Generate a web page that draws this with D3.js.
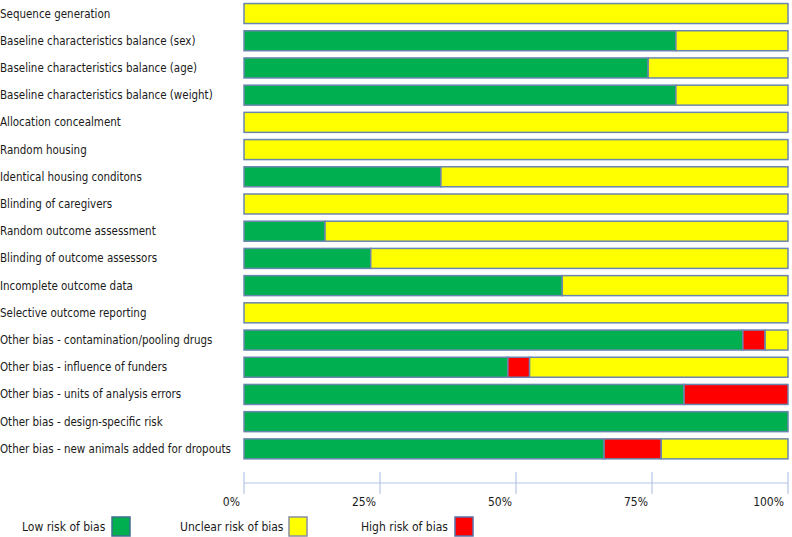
<!DOCTYPE html>
<html><head><meta charset="utf-8">
<script src="https://cdn.jsdelivr.net/npm/d3@7"></script>
<style>body{margin:0;background:#fff}svg{display:block}</style>
</head><body>
<svg id="chart" width="792" height="537"></svg>
<script>
const categories = [
  "Sequence generation",
  "Baseline characteristics balance (sex)",
  "Baseline characteristics balance (age)",
  "Baseline characteristics balance (weight)",
  "Allocation concealment",
  "Random housing",
  "Identical housing conditons",
  "Blinding of caregivers",
  "Random outcome assessment",
  "Blinding of outcome assessors",
  "Incomplete outcome data",
  "Selective outcome reporting",
  "Other bias - contamination/pooling drugs",
  "Other bias - influence of funders",
  "Other bias - units of analysis errors",
  "Other bias - design-specific risk",
  "Other bias - new animals added for dropouts"
];
const lowRisk     = [0, 79.4, 74.3, 79.4, 0, 0, 36.2, 0, 14.9, 23.3, 58.5, 0, 91.7, 48.5, 80.9, 100, 66.2];
const highRisk    = [0, 0, 0, 0, 0, 0, 0, 0, 0, 0, 0, 0, 4.1, 4.0, 19.1, 0, 10.5];
const unclearRisk = [100, 20.6, 25.7, 20.6, 100, 100, 63.8, 100, 85.1, 76.7, 41.5, 100, 4.2, 47.5, 0, 0, 23.3];
const seriesNames = ["Low risk of bias", "Unclear risk of bias", "High risk of bias"];
const tickValues = [0, 25, 50, 75, 100];
const tickLabels = ["0%", "25%", "50%", "75%", "100%"];

const colors = {"Low risk of bias": "#00B050", "Unclear risk of bias": "#FFFF00", "High risk of bias": "#FF0000"};
const legendBorders = {"Low risk of bias": "#3f6f8f", "Unclear risk of bias": "#8a8f9f", "High risk of bias": "#5a6fa8"};
const font = "Tahoma, 'DejaVu Sans Condensed', 'Liberation Sans Narrow', 'DejaVu Sans', sans-serif";

// stack order as drawn: low, high, unclear
const rows = categories.map((c, i) => ({cat: c, low: lowRisk[i], high: highRisk[i], unclear: unclearRisk[i]}));
const stack = d3.stack().keys(["low", "high", "unclear"])(rows);
const keyName = {low: "Low risk of bias", high: "High risk of bias", unclear: "Unclear risk of bias"};

const svg = d3.select("#chart");
const x = d3.scaleLinear().domain([0, 100]).range([244, 788]);
const y = d3.scaleBand().domain(categories).range([0, 462.4]).paddingInner(0.265).paddingOuter(0.13);

// category labels
const labelG = svg.append("g");
labelG.selectAll("text").data(categories).join("text")
  .attr("x", 0).attr("y", d => y(d) + y.bandwidth() / 2)
  .attr("dy", "0.35em")
  .attr("font-family", font).attr("font-size", 12).attr("fill", "#1a1a1a")
  .text(d => d);
// fit longest label into the label column (~231px)
(function() {
  const nodes = labelG.selectAll("text").nodes();
  const maxW = d3.max(nodes, n => n.getComputedTextLength());
  if (maxW > 232) labelG.selectAll("text").attr("font-size", 12 * 231 / maxW);
})();

// bars
svg.append("g").selectAll("g").data(stack).join("g")
  .attr("fill", s => colors[keyName[s.key]])
  .selectAll("rect").data(s => s.filter(d => d[1] - d[0] > 0)).join("rect")
  .attr("x", d => x(d[0]))
  .attr("y", d => y(d.data.cat))
  .attr("width", d => x(d[1]) - x(d[0]))
  .attr("height", y.bandwidth())
  .attr("stroke", "#6b86ad").attr("stroke-width", 1.5);

// axis
const axisG = svg.append("g");
const axisY = 483;
axisG.append("line").attr("x1", x(0)).attr("x2", x(100)).attr("y1", axisY).attr("y2", axisY)
  .attr("stroke", "#b4c6e7").attr("stroke-width", 1.2);
axisG.selectAll("line.tick").data(tickValues).join("line").attr("class", "tick")
  .attr("x1", d => x(d)).attr("x2", d => x(d)).attr("y1", axisY - 11).attr("y2", axisY + 11)
  .attr("stroke", "#b4c6e7").attr("stroke-width", 1.2);
axisG.selectAll("text").data(tickValues).join("text")
  .attr("x", d => x(d) - 4).attr("y", 502).attr("dy", "0.35em")
  .attr("text-anchor", "end")
  .attr("font-family", font).attr("font-size", 12).attr("fill", "#1a1a1a")
  .text((d, i) => tickLabels[i]);

// legend
const legendX = {"Low risk of bias": [22, 112], "Unclear risk of bias": [180, 289], "High risk of bias": [361, 455]};
const lg = svg.append("g").selectAll("g").data(seriesNames).join("g");
lg.append("text").attr("x", d => legendX[d][0]).attr("y", 527).attr("dy", "0.35em")
  .attr("font-family", font).attr("font-size", 12).attr("fill", "#1a1a1a").text(d => d);
lg.append("rect").attr("x", d => legendX[d][1]).attr("y", 517).attr("width", 18).attr("height", 19)
  .attr("fill", d => colors[d]).attr("stroke", d => legendBorders[d]).attr("stroke-width", 1.5);
</script>
</body></html>
